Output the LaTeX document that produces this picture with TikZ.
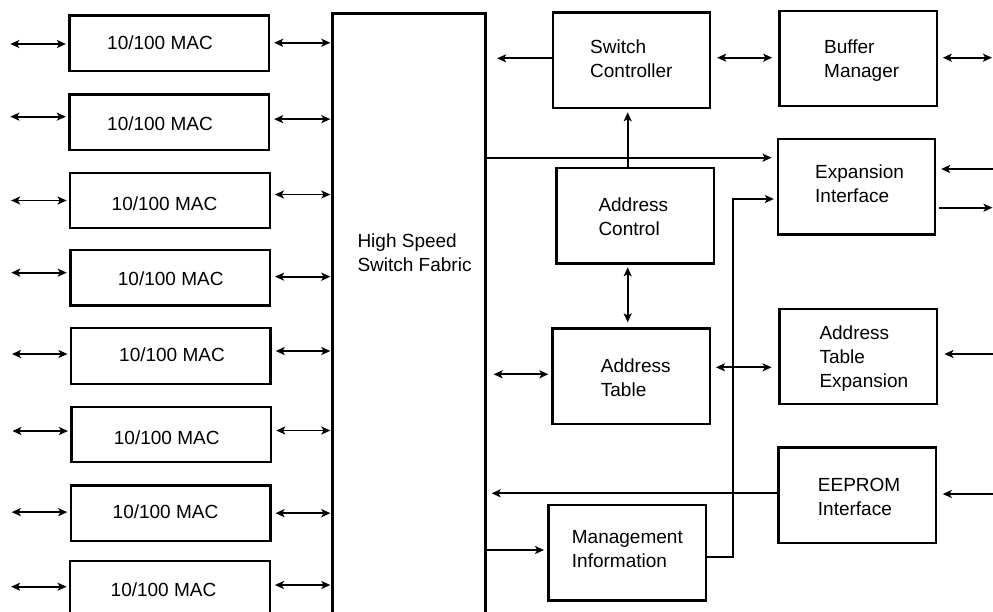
\documentclass[tikz,border=0pt]{standalone}
\usepackage{fontspec}
\setmainfont{Liberation Sans}
\usetikzlibrary{arrows.meta,calc}
\begin{document}
\begin{tikzpicture}[x=1pt,y=-1pt,
  blk/.style={draw,line width=2.3pt,inner sep=0pt},
  mac/.style={blk,minimum width=199.5pt,minimum height=55.6pt},
  big/.style={blk,minimum width=157.3pt,minimum height=95.3pt},
  txt/.style={inner sep=0pt,anchor=west,align=left,font=\fontsize{19}{24}\selectfont,text depth=0pt},
  ctxt/.style={inner sep=0pt,anchor=center,font=\fontsize{19}{24}\selectfont,text depth=0pt},
  tip/.tip={Stealth[length=9pt,width=8pt,inset=2.2pt]},
  ar/.style={line width=1.7pt,-tip},
  dbl/.style={line width=1.7pt,tip-tip}]
\clip (0,0) rectangle (993,611);
\fill[white] (0,0) rectangle (993,611);
\coordinate (edge) at (993,0);
% switch fabric
\node[blk,minimum width=153pt,minimum height=617pt] (fab) at (409,322) {};
\node[txt] at (357.3,252.9) {High Speed\\Switch Fabric};
% MAC boxes
\node[mac] (mac1) at (169.25,43.25) {};
\node[mac] (mac2) at (169.25,122.15) {};
\node[mac] (mac3) at (170,200.5) {};
\node[mac] (mac4) at (170.15,277.65) {};
\node[mac] (mac5) at (170.85,356) {};
\node[mac] (mac6) at (171.35,434.5) {};
\node[mac] (mac7) at (170.65,513.15) {};
\node[mac] (mac8) at (170,588.7) {};
\node[ctxt] at (160,43) {10/100 MAC};
\node[ctxt] at (160,123.3) {10/100 MAC};
\node[ctxt] at (164.5,203.3) {10/100 MAC};
\node[ctxt] at (170.7,278.3) {10/100 MAC};
\node[ctxt] at (172,355) {10/100 MAC};
\node[ctxt] at (166.7,437.3) {10/100 MAC};
\node[ctxt] at (165.5,511.7) {10/100 MAC};
\node[ctxt] at (163.5,589.3) {10/100 MAC};
\foreach \n/\ly/\ry in {1/0.75/-0.5, 2/-5.5/-3, 3/0/-6, 4/-5/-1, 5/-2/-5, 6/-3.5/-4, 7/-1/0, 8/-2/-3.7} {
  \coordinate (l\n) at ($(mac\n.west)+(0,\ly)$);
  \coordinate (r\n) at ($(mac\n.east)+(0,\ry)$);
  \draw[dbl,shorten >=2.5pt] ($(l\n)+(-58,0)$) -- (l\n);
  \draw[dbl,shorten <=4pt,shorten >=1pt] (r\n) -- (r\n -| fab.west);
}
% right-hand blocks
\node[big] (sc) at (631.35,60.2) {};
\node[big] (bm) at (858,58.5) {};
\node[big] (ei) at (856.35,186.8) {};
\node[big] (ac) at (635,215.8) {};
\node[big] (at) at (631.15,376.15) {};
\node[big] (ate) at (858,356.65) {};
\node[big] (ee) at (857,495.2) {};
\node[big] (mi) at (627.15,552.85) {};
\node[txt] at (590,58.7) {Switch\\Controller};
\node[txt] at (824,58.7) {Buffer\\Manager};
\node[txt] at (815,183.3) {Expansion\\Interface};
\node[txt] at (598.3,217) {Address\\Control};
\node[txt] at (600.7,377.7) {Address\\Table};
\node[txt] at (819.3,356.5) {Address\\Table\\Expansion};
\node[txt] at (817.7,497) {EEPROM\\Interface};
\node[txt] at (571.7,549.3) {Management\\Information};
% connectors
\coordinate (s1) at ($(sc.west)+(0,-1.9)$);
\draw[ar,shorten >=10.5pt] (s1) -- (s1 -| fab.east);
\coordinate (s2) at ($(sc.east)+(0,-2.5)$);
\draw[dbl,shorten <=6pt,shorten >=6pt] (s2) -- (s2 -| bm.west);
\coordinate (b1) at ($(bm.east)+(0,-0.8)$);
\draw[dbl,shorten <=5pt,shorten >=1pt] (b1) -- (b1 -| edge);
\coordinate (f1) at ($(ei.west)+(0,-29.1)$);
\draw[ar,shorten >=5pt] (f1 -| fab.east) -- (f1);
\coordinate (e1) at ($(ei.east)+(0,-17.8)$);
\draw[ar,shorten >=5pt] (e1 -| edge) -- (e1);
\coordinate (e2) at ($(ei.east)+(0,20.9)$);
\draw[ar,shorten <=3pt,shorten >=0.5pt] (e2) -- (e2 -| edge);
\coordinate (a1) at ($(ac.north)+(-7.3,0)$);
\draw[ar,shorten >=3.3pt] (a1) -- (a1 |- sc.south);
\coordinate (a2) at ($(ac.south)+(-7.3,0)$);
\draw[dbl,shorten <=2.7pt,shorten >=5pt] (a2) -- (a2 |- at.north);
\coordinate (t1) at ($(at.west)+(0,-1.85)$);
\draw[dbl,shorten <=7pt,shorten >=3pt] (t1 -| fab.east) -- (t1);
\coordinate (t2) at ($(at.east)+(0,-8.85)$);
\draw[dbl,shorten <=5pt,shorten >=6.6pt] (t2) -- (t2 -| ate.west);
\coordinate (x1) at ($(ate.east)+(0,-2.65)$);
\draw[ar,shorten >=6.6pt] (x1 -| edge) -- (x1);
\coordinate (p1) at ($(ee.east)+(0,-1.2)$);
\draw[ar,shorten >=6pt] (p1 -| edge) -- (p1);
\coordinate (p2) at ($(ee.west)+(0,-1.9)$);
\draw[ar,shorten >=5pt] (p2) -- (p2 -| fab.east);
\coordinate (m1) at ($(mi.west)+(0,-2.85)$);
\draw[ar,shorten >=3.3pt] (m1 -| fab.east) -- (m1);
\coordinate (m2) at ($(mi.east)+(0,4.45)$);
\coordinate (e3) at ($(ei.west)+(0,12.2)$);
\draw[ar,shorten >=2.7pt] (m2) -- ++(25.7,0) |- (e3);
\end{tikzpicture}
\end{document}
